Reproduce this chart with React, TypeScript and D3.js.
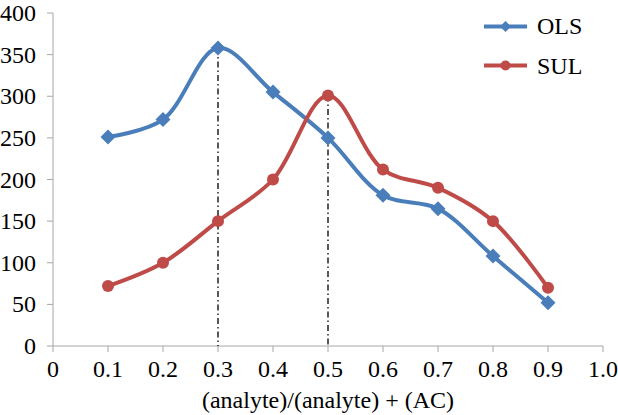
import React from "react";
import * as d3 from "d3";

const xValues = [0.1, 0.2, 0.3, 0.4, 0.5, 0.6, 0.7, 0.8, 0.9];
const olsValues = [251, 272, 358, 305, 250, 181, 165, 108, 52];
const sulValues = [72, 100, 150, 200, 301, 212, 190, 150, 70];
const xTicks = [0, 0.1, 0.2, 0.3, 0.4, 0.5, 0.6, 0.7, 0.8, 0.9, 1.0];
const xTickLabels = ["0", "0.1", "0.2", "0.3", "0.4", "0.5", "0.6", "0.7", "0.8", "0.9", "1.0"];
const yTicks = [0, 50, 100, 150, 200, 250, 300, 350, 400];
const dropLines = [
  { x: 0.3, y: 358 },
  { x: 0.5, y: 301 },
];
const xTitle = "(analyte)/(analyte) + (AC)";

const BLUE = "#4A7EBB";
const RED = "#BE4B48";
const AXIS = "#A6A6A6";
const textStyle: React.CSSProperties = { fontFamily: "Liberation Serif, DejaVu Serif, serif", fontSize: "24px" };

export default function App() {
  const x = d3.scaleLinear().domain([0, 1]).range([53, 603]);
  const y = d3.scaleLinear().domain([0, 400]).range([346, 13]);
  const line = d3
    .line<number>()
    .x((_, i) => x(xValues[i]))
    .y((d) => y(d))
    .curve(d3.curveCatmullRom.alpha(0.5));

  const diamond = (cx: number, cy: number, r: number) =>
    `M${cx},${cy - r}L${cx + r},${cy}L${cx},${cy + r}L${cx - r},${cy}Z`;

  return (
    <svg
      width={618}
      height={415}
      style={{ position: "absolute", left: 0, top: 0, background: "#fff" }}
    >
      {/* axes */}
      <line x1={x(0)} x2={x(0)} y1={y(400)} y2={y(0)} stroke={AXIS} strokeWidth={1} />
      <line x1={x(0)} x2={x(1)} y1={y(0)} y2={y(0)} stroke={AXIS} strokeWidth={1} />
      {yTicks.map((t) => (
        <g key={"y" + t}>
          <line x1={x(0) - 6} x2={x(0)} y1={y(t)} y2={y(t)} stroke={AXIS} />
          <text x={36} y={y(t) + 8} textAnchor="end" style={textStyle} fill="#000">
            {t}
          </text>
        </g>
      ))}
      {xTicks.map((t, i) => (
        <g key={"x" + i}>
          <line x1={x(t)} x2={x(t)} y1={y(0)} y2={y(0) + 6} stroke={AXIS} />
          <text x={x(t)} y={377} textAnchor="middle" style={textStyle} fill="#000">
            {xTickLabels[i]}
          </text>
        </g>
      ))}
      <text x={328} y={408} textAnchor="middle" style={textStyle} fill="#000">
        {xTitle}
      </text>

      {/* drop lines */}
      {dropLines.map((d, i) => (
        <line
          key={"d" + i}
          x1={x(d.x)}
          x2={x(d.x)}
          y1={y(d.y)}
          y2={y(0)}
          stroke="#000"
          strokeWidth={1.3}
          strokeDasharray="6,3,1.5,3"
        />
      ))}

      {/* series */}
      <path d={line(olsValues) || ""} fill="none" stroke={BLUE} strokeWidth={4} />
      <path d={line(sulValues) || ""} fill="none" stroke={RED} strokeWidth={4} />
      {olsValues.map((v, i) => (
        <path key={"o" + i} d={diamond(x(xValues[i]), y(v), 7.5)} fill={BLUE} />
      ))}
      {sulValues.map((v, i) => (
        <circle key={"s" + i} cx={x(xValues[i])} cy={y(v)} r={6} fill={RED} />
      ))}

      {/* legend */}
      <line x1={484} x2={527} y1={26.5} y2={26.5} stroke={BLUE} strokeWidth={4} />
      <path d={diamond(505.5, 26.5, 5.5)} fill={BLUE} />
      <text x={537} y={34} style={textStyle} fill="#000">OLS</text>
      <line x1={484} x2={527} y1={65.5} y2={65.5} stroke={RED} strokeWidth={4} />
      <circle cx={505.5} cy={65.5} r={5} fill={RED} />
      <text x={537} y={74} style={textStyle} fill="#000">SUL</text>
    </svg>
  );
}
